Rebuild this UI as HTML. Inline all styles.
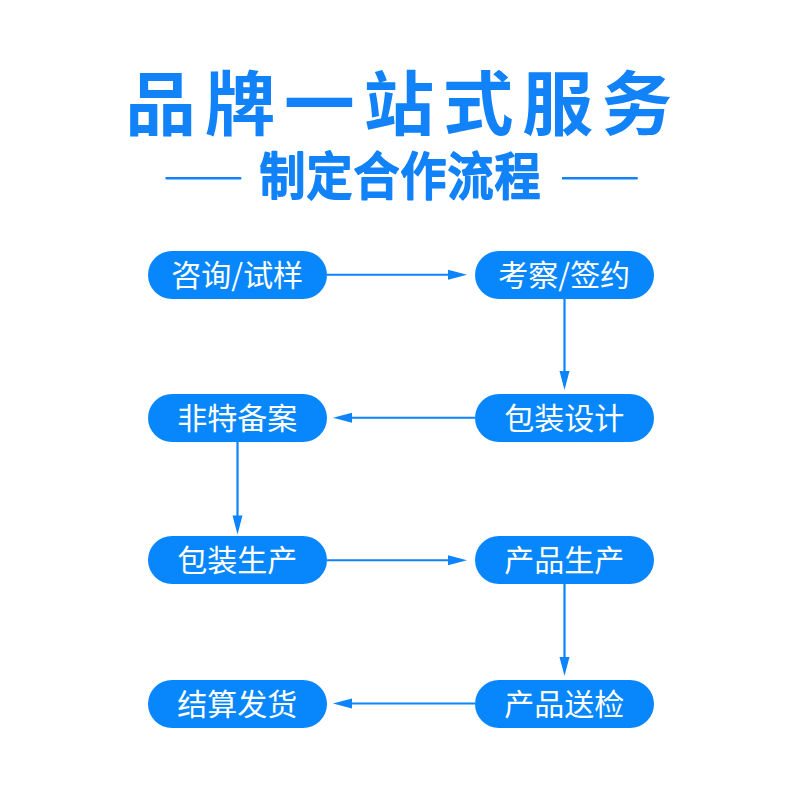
<!DOCTYPE html>
<html lang="zh-CN">
<head>
<meta charset="utf-8">
<title>品牌一站式服务</title>
<style>
  html,body{margin:0;padding:0;background:#fff;}
  body{width:800px;height:800px;position:relative;overflow:hidden;
       font-family:"Liberation Sans","Noto Sans CJK SC",sans-serif;}
  .abs{position:absolute;}
  .title{left:-0.8px;width:800px;top:57.5px;height:96px;line-height:96px;text-align:center;
         color:#1182f8;font-weight:700;font-size:70px;white-space:nowrap;}
  .title span{display:inline-block;letter-spacing:8.6px;margin-right:-8.6px;
         transform:scaleX(1.01);transform-origin:50% 50%;}
  .pill{width:179.5px;height:48px;border-radius:24px;background:#0887fc;color:#fff;
        font-size:30px;line-height:49.2px;text-align:center;white-space:nowrap;}
  .pill i{font-style:normal;line-height:0;font-family:"Noto Sans CJK SC","Liberation Sans",sans-serif;}
  svg{position:absolute;left:0;top:0;}
  .subt{font-family:"Liberation Sans","Noto Sans CJK SC",sans-serif;font-size:46px;font-weight:500;
        letter-spacing:1.0px;fill:#1182f8;stroke:#1182f8;stroke-width:1.8px;stroke-linejoin:round;stroke-linecap:round;}
</style>
</head>
<body>
<div class="abs title"><span>品牌一站式服务</span></div>

<svg width="800" height="800" viewBox="0 0 800 800">
  <text class="subt" x="400" y="0" text-anchor="middle" transform="translate(0.5,195) scale(1,1.12)">制定合作流程</text>
  <g stroke="#1182f8" stroke-width="2.4" fill="none">
    <line x1="165.5" y1="178.3" x2="241.3" y2="178.3"/>
    <line x1="562" y1="178.3" x2="637.7" y2="178.3"/>
  </g>
  <g stroke="#0d84fa" stroke-width="2.2" fill="none">
    <line x1="327" y1="274.75" x2="450" y2="274.75"/>
    <line x1="564.5" y1="299" x2="564.5" y2="373"/>
    <line x1="475" y1="417.75" x2="350" y2="417.75"/>
    <line x1="237.5" y1="442" x2="237.5" y2="517"/>
    <line x1="327" y1="560.25" x2="450" y2="560.25"/>
    <line x1="564.5" y1="584" x2="564.5" y2="659"/>
    <line x1="475" y1="703.5" x2="350" y2="703.5"/>
  </g>
  <g fill="#0d84fa">
    <polygon points="448,269.75 467,274.75 448,279.75"/>
    <polygon points="559.5,371 564.5,390 569.5,371"/>
    <polygon points="352,412.75 333,417.75 352,422.75"/>
    <polygon points="232.5,515.5 237.5,534.5 242.5,515.5"/>
    <polygon points="448,555.25 467,560.25 448,565.25"/>
    <polygon points="559.5,657 564.5,676 569.5,657"/>
    <polygon points="352,698.5 333,703.5 352,708.5"/>
  </g>
</svg>

<div class="abs pill" style="left:147.5px;top:250.5px;">咨询<i>/</i>试样</div>
<div class="abs pill" style="left:474.5px;top:250.5px;">考察<i>/</i>签约</div>
<div class="abs pill" style="left:147.5px;top:394px;">非特备案</div>
<div class="abs pill" style="left:474.5px;top:394px;">包装设计</div>
<div class="abs pill" style="left:147.5px;top:536px;">包装生产</div>
<div class="abs pill" style="left:474.5px;top:536px;">产品生产</div>
<div class="abs pill" style="left:147.5px;top:679.5px;">结算发货</div>
<div class="abs pill" style="left:474.5px;top:679.5px;">产品送检</div>
</body>
</html>
